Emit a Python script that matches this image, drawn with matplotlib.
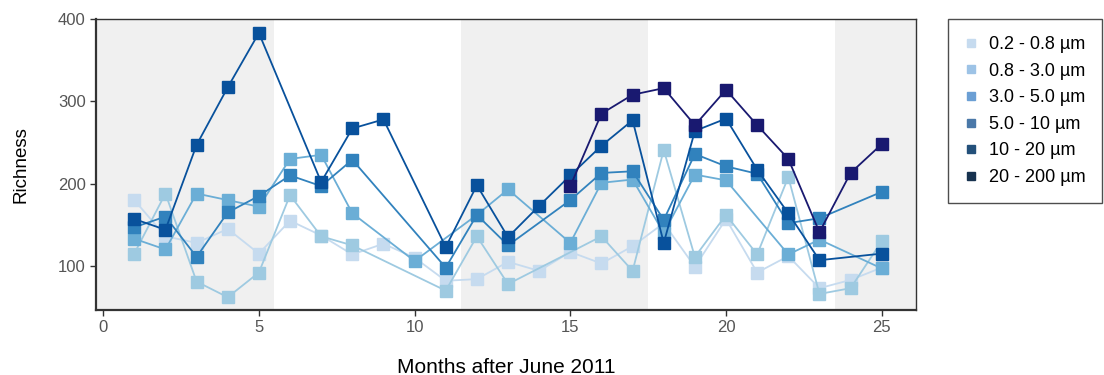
import numpy as np
import matplotlib
matplotlib.use("Agg")
import matplotlib.pyplot as plt
from matplotlib.lines import Line2D

nan = np.nan
months = list(range(1, 26))

size_labels = ["0.2 - 0.8 µm", "0.8 - 3.0 µm", "3.0 - 5.0 µm",
               "5.0 - 10 µm", "10 - 20 µm", "20 - 200 µm"]

rich_02_08 = [180, 136, 128, 145, 115, 155, 137, 114, 127, 110, 82, 84, 105,
              94, 117, 103, 124, 152, 99, 157, 92, 112, 73, 83, 98]
rich_08_30 = [115, 188, 81, 62, 92, 186, 136, 125, nan, nan, 70, 136, 78,
              nan, nan, 136, 94, 241, 111, 162, 114, 208, 66, 73, 130]
rich_30_50 = [133, 120, 188, 180, 172, 230, 235, 164, nan, 106, nan, 162, 193,
              nan, 128, 201, 205, 140, 211, 204, nan, 114, 132, nan, 97]
rich_50_10 = [147, 160, 111, 165, 185, 210, 197, 229, nan, nan, 98, 162, 125,
              nan, 180, 213, 215, 156, 236, 221, 212, 152, 158, nan, 190]
rich_10_20 = [157, 144, 247, 317, 383, nan, 202, 267, 278, nan, 123, 198, 135,
              173, 210, 246, 277, 128, 264, 279, 217, 164, 107, nan, 115]
rich_20_200 = [nan, nan, nan, nan, nan, nan, nan, nan, nan, nan, nan, nan, nan,
               nan, 197, 285, 308, 316, 271, 314, 271, 230, 141, 213, 248]

# shaded periods (months)
shade_spans = [(-0.5, 5.5), (11.5, 17.5), (23.5, 27)]

line_colors = ["#c6dbef", "#9ecae1", "#6baed6", "#3182bd", "#08519c", "#191970"]
key_colors = ["#c6dbef", "#9dc3e6", "#6b9fd4", "#4a78a8", "#23507a", "#17324f"]

series = [rich_02_08, rich_08_30, rich_30_50, rich_50_10, rich_10_20, rich_20_200]

fig = plt.figure(figsize=(11.04, 3.75), dpi=100)
ax = fig.add_axes([96 / 1104, 1 - 310 / 375, (916 - 96) / 1104, (310 - 19) / 375])

for a, b in shade_spans:
    ax.axvspan(a, b, color="#f0f0f0", lw=0, zorder=0)

x = np.array(months)
for vals, col in zip(series, line_colors):
    y = np.array(vals, dtype=float)
    ok = ~np.isnan(y)
    ax.plot(x[ok], y[ok], color=col, lw=1.3, marker="s", ms=8,
            mec=col, mfc=col, zorder=3)

ax.set_xlim(-0.23, 26.1)
ax.set_ylim(46.5, 400)
ax.set_xticks([0, 5, 10, 15, 20, 25])
ax.set_yticks([100, 200, 300, 400])

for s in ax.spines.values():
    s.set_color("#333333")
    s.set_linewidth(1.0)
ax.spines["bottom"].set_linewidth(1.6)
ax.spines["left"].set_linewidth(1.6)
ax.tick_params(axis="both", colors="#333333", length=4, width=1,
               labelcolor="#555555")
for lab in ax.get_yticklabels():
    lab.set_fontsize(12)
    lab.set_family("Liberation Sans")
for lab in ax.get_xticklabels():
    lab.set_fontsize(12)
    lab.set_family("Liberation Sans")

ax.set_ylabel("Richness", fontsize=13.5, family="Liberation Sans", labelpad=20)
ax.set_xlabel("Months after June 2011", fontsize=15,
              family="Liberation Sans", labelpad=16)

handles = [Line2D([], [], ls="none", marker="s", ms=6, mfc=c, mec=c)
           for c in key_colors]
leg = fig.legend(handles, size_labels, loc="upper left",
                 bbox_to_anchor=(948 / 1104, 1 - 19 / 375),
                 prop={"family": "Liberation Sans", "size": 13},
                 frameon=True, fancybox=False, edgecolor="#222222",
                 borderpad=0.95, labelspacing=0.53, handlelength=0.7,
                 handletextpad=0.6, borderaxespad=0)
leg.get_frame().set_linewidth(1.0)

fig.savefig("out.png", dpi=100)
